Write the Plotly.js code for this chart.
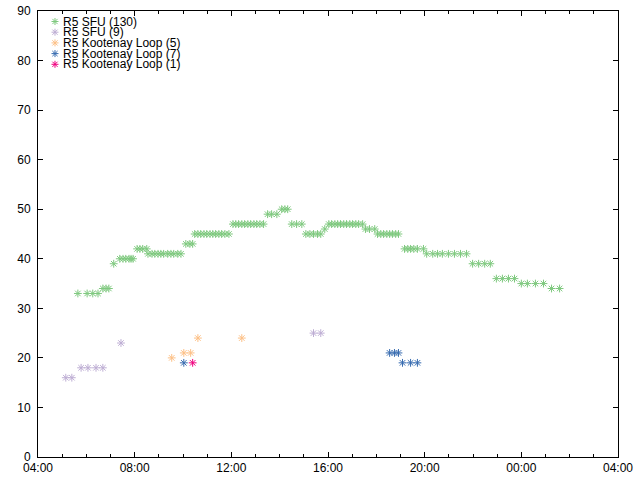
<!DOCTYPE html>
<html>
<head>
<meta charset="utf-8">
<script src="https://cdn.plot.ly/plotly-3.0.1.min.js"></script>
<style>html,body{margin:0;padding:0;background:#fff}#chart{width:640px;height:480px}</style>
</head>
<body>
<div id="chart"></div>
<script>
// ---- data ----
const seriesNames = ["R5 SFU (130)", "R5 SFU (9)", "R5 Kootenay Loop (5)", "R5 Kootenay Loop (7)", "R5 Kootenay Loop (1)"];
const seriesColors = ["#7fc97f", "#beaed4", "#fdc086", "#386cb0", "#f0027f"];

const sfu130Times = [
  "2024-03-01 05:39","2024-03-01 06:02","2024-03-01 06:16","2024-03-01 06:29",
  "2024-03-01 06:41","2024-03-01 06:49","2024-03-01 06:56",
  "2024-03-01 07:08",
  "2024-03-01 07:23","2024-03-01 07:31","2024-03-01 07:38","2024-03-01 07:46","2024-03-01 07:51","2024-03-01 07:56",
  "2024-03-01 08:06","2024-03-01 08:13","2024-03-01 08:20","2024-03-01 08:30",
  "2024-03-01 08:33","2024-03-01 08:43","2024-03-01 08:50","2024-03-01 08:58","2024-03-01 09:05","2024-03-01 09:12","2024-03-01 09:22","2024-03-01 09:30","2024-03-01 09:37","2024-03-01 09:47","2024-03-01 09:55",
  "2024-03-01 10:07","2024-03-01 10:17","2024-03-01 10:24",
  "2024-03-01 10:29","2024-03-01 10:37","2024-03-01 10:44","2024-03-01 10:52","2024-03-01 10:59","2024-03-01 11:07","2024-03-01 11:14","2024-03-01 11:21","2024-03-01 11:29","2024-03-01 11:36","2024-03-01 11:44","2024-03-01 11:54",
  "2024-03-01 12:04","2024-03-01 12:11","2024-03-01 12:18","2024-03-01 12:26","2024-03-01 12:33","2024-03-01 12:41","2024-03-01 12:48","2024-03-01 12:56","2024-03-01 13:03","2024-03-01 13:11","2024-03-01 13:20",
  "2024-03-01 13:30","2024-03-01 13:40","2024-03-01 13:53",
  "2024-03-01 14:05","2024-03-01 14:13","2024-03-01 14:20",
  "2024-03-01 14:30","2024-03-01 14:42","2024-03-01 14:55",
  "2024-03-01 15:05","2024-03-01 15:15","2024-03-01 15:24","2024-03-01 15:34","2024-03-01 15:42",
  "2024-03-01 15:52",
  "2024-03-01 16:02","2024-03-01 16:09","2024-03-01 16:17","2024-03-01 16:24","2024-03-01 16:31","2024-03-01 16:39","2024-03-01 16:46","2024-03-01 16:54","2024-03-01 17:01","2024-03-01 17:09","2024-03-01 17:16","2024-03-01 17:26",
  "2024-03-01 17:33","2024-03-01 17:43","2024-03-01 17:56",
  "2024-03-01 18:03","2024-03-01 18:11","2024-03-01 18:18","2024-03-01 18:26","2024-03-01 18:33","2024-03-01 18:40","2024-03-01 18:48","2024-03-01 18:55",
  "2024-03-01 19:10","2024-03-01 19:18","2024-03-01 19:25","2024-03-01 19:33","2024-03-01 19:42","2024-03-01 19:57",
  "2024-03-01 20:05","2024-03-01 20:20","2024-03-01 20:32","2024-03-01 20:44","2024-03-01 20:59","2024-03-01 21:14","2024-03-01 21:29","2024-03-01 21:44",
  "2024-03-01 21:59","2024-03-01 22:14","2024-03-01 22:29","2024-03-01 22:43",
  "2024-03-01 22:58","2024-03-01 23:13","2024-03-01 23:28","2024-03-01 23:43",
  "2024-03-02 00:00","2024-03-02 00:15","2024-03-02 00:35","2024-03-02 00:55",
  "2024-03-02 01:15","2024-03-02 01:35"
];
const sfu130Values = [
  33,33,33,33,
  34,34,34,
  39,
  40,40,40,40,40,40,
  42,42,42,42,
  41,41,41,41,41,41,41,41,41,41,41,
  43,43,43,
  45,45,45,45,45,45,45,45,45,45,45,45,
  47,47,47,47,47,47,47,47,47,47,47,
  49,49,49,
  50,50,50,
  47,47,47,
  45,45,45,45,45,
  46,
  47,47,47,47,47,47,47,47,47,47,47,47,
  46,46,46,
  45,45,45,45,45,45,45,45,
  42,42,42,42,42,42,
  41,41,41,41,41,41,41,41,
  39,39,39,39,
  36,36,36,36,
  35,35,35,35,
  34,34
];

const sfu9Times = ["2024-03-01 05:09","2024-03-01 05:24","2024-03-01 05:47","2024-03-01 06:04","2024-03-01 06:24","2024-03-01 06:41","2024-03-01 07:26","2024-03-01 15:24","2024-03-01 15:42"];
const sfu9Values = [16,16,18,18,18,18,23,25,25];

const kl5Times = ["2024-03-01 09:32","2024-03-01 10:02","2024-03-01 10:19","2024-03-01 10:37","2024-03-01 12:26"];
const kl5Values = [20,21,21,24,24];

const kl7Times = ["2024-03-01 10:02","2024-03-01 18:33","2024-03-01 18:45","2024-03-01 18:55","2024-03-01 19:05","2024-03-01 19:25","2024-03-01 19:42"];
const kl7Values = [19,21,21,21,19,19,19];

const kl1Times = ["2024-03-01 10:24"];
const kl1Values = [19];

const xRange = ["2024-03-01 04:00", "2024-03-02 04:00"];
const yRange = [0, 90];

// ---- build traces ----
const allX = [sfu130Times, sfu9Times, kl5Times, kl7Times, kl1Times];
const allY = [sfu130Values, sfu9Values, kl5Values, kl7Values, kl1Values];

const traces = allX.map((xs, i) => ({
  type: "scatter",
  mode: "markers",
  x: xs,
  y: allY[i],
  name: seriesNames[i],
  showlegend: false,
  marker: {
    symbol: "asterisk-open",
    size: 6.5,
    color: seriesColors[i],
    line: {color: seriesColors[i], width: 1}
  },
  hoverinfo: "x+y+name"
}));

// ---- hand-built compact legend (gnuplot style) ----
const plotL = 38, plotR = 618.5, plotT = 11, plotB = 457;
const pw = plotR - plotL, ph = plotB - plotT;
const legendMarkerPx = 55, legendTextPx = 62.5, legendTopPx = 21.5, legendRowPx = 10.7;

const annotations = [];
const shapes = [];
seriesNames.forEach((nm, i) => {
  const py = legendTopPx + i * legendRowPx;
  const yp = (plotB - py) / ph;
  annotations.push({
    xref: "paper", yref: "paper",
    x: (legendTextPx - plotL) / pw, y: yp,
    xanchor: "left", yanchor: "middle",
    text: nm, showarrow: false, borderpad: 0,
    font: {family: "Liberation Sans, Arial, sans-serif", size: 12, color: "#000"}
  });
  shapes.push({
    type: "path",
    xref: "paper", yref: "paper",
    xsizemode: "pixel", ysizemode: "pixel",
    xanchor: (legendMarkerPx - plotL) / pw, yanchor: yp,
    path: "M-3.5,0H3.5M0,-3.5V3.5M-2.6,-2.6L2.6,2.6M-2.6,2.6L2.6,-2.6",
    line: {color: seriesColors[i], width: 1}
  });
});

const axisFont = {family: "Liberation Sans, Arial, sans-serif", size: 12, color: "#000"};

const layout = {
  width: 640, height: 480,
  margin: {l: plotL, r: 640 - plotR, t: plotT, b: 480 - plotB, pad: 0},
  paper_bgcolor: "#fff",
  plot_bgcolor: "#fff",
  showlegend: false,
  font: axisFont,
  xaxis: {
    type: "date",
    range: xRange,
    dtick: 4 * 3600 * 1000,
    tick0: "2024-03-01 04:00",
    tickformat: "%H:%M",
    ticks: "inside",
    ticklen: 5,
    tickcolor: "#000",
    tickwidth: 1,
    minor: {dtick: 3600 * 1000, ticks: "inside", ticklen: 3, tickcolor: "#000", showgrid: false},
    showgrid: false,
    zeroline: false,
    showline: true,
    linecolor: "#000",
    linewidth: 1,
    mirror: "allticks",
    tickfont: axisFont
  },
  yaxis: {
    range: yRange,
    dtick: 10,
    tick0: 0,
    ticks: "inside",
    ticklen: 5,
    tickcolor: "#000",
    tickwidth: 1,
    showgrid: false,
    zeroline: false,
    showline: true,
    linecolor: "#000",
    linewidth: 1,
    mirror: "allticks",
    tickfont: axisFont,
    ticklabelstandoff: 4
  },
  annotations: annotations,
  shapes: shapes
};

Plotly.newPlot("chart", traces, layout, {displayModeBar: false, staticPlot: true});
</script>
</body>
</html>
